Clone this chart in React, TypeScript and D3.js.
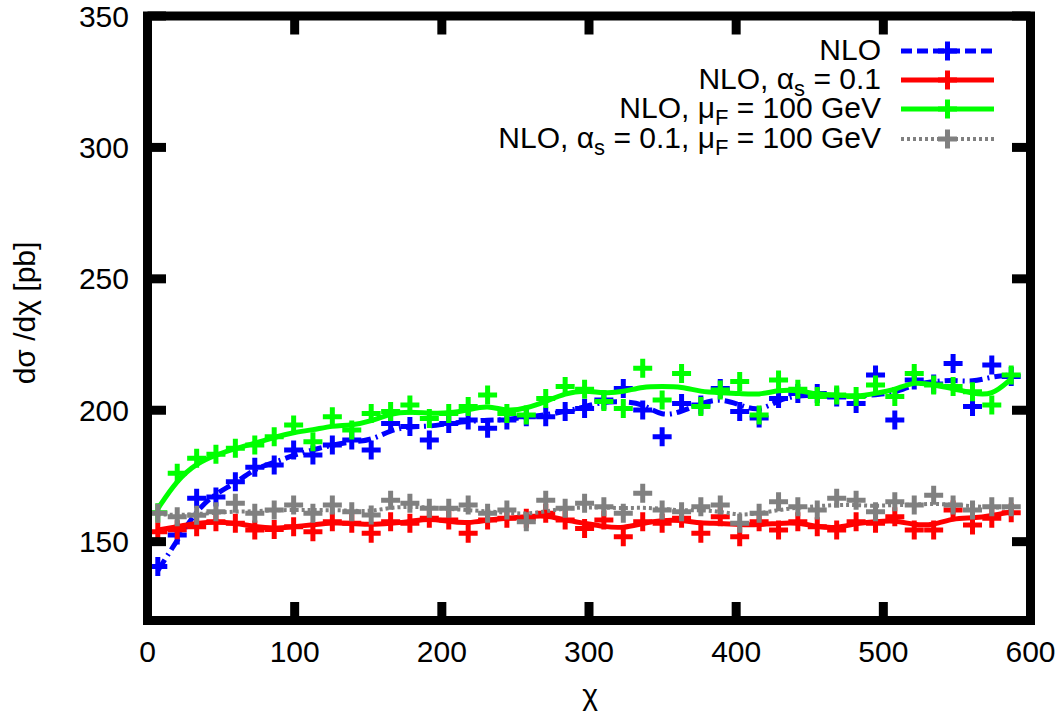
import React from 'react';
import * as d3 from 'd3';

// chi bin centres
const chi = [
  7.0, 20.2, 33.4, 46.5, 59.7, 72.9, 86.1, 99.3, 112.4, 125.6,
  138.8, 152.0, 165.2, 178.3, 191.5, 204.7, 217.9, 231.1, 244.2, 257.4,
  270.6, 283.8, 297.0, 310.1, 323.3, 336.5, 349.7, 362.9, 376.0, 389.2,
  402.4, 415.6, 428.8, 441.9, 455.1, 468.3, 481.5, 494.7, 507.8, 521.0,
  534.2, 547.4, 560.6, 573.7, 586.9,
];

// NLO (blue)
const nloPts = [
  140.5, 152.5, 166.5, 167, 172.8, 178.3, 179.2, 184.9, 183, 186.8,
  188.7, 184.9, 195, 193.8, 188.7, 195, 196.3, 193.1, 196.3, 197.5,
  197.5, 199.5, 200.7, 203.9, 208.3, 200.1, 189.9, 202.6, 202, 208.3,
  199.5, 197, 204.5, 206.4, 206.4, 205, 202.6, 213.4, 196.3, 211.5,
  210, 217.8, 201.4, 217.2, 212.8,
];
const nloCurve = [
  139, 150.5, 162, 168.4, 172.2, 177.9, 180, 183, 184.9, 186.8,
  188, 188.5, 192.5, 193.8, 193.8, 195, 195.7, 196.3, 196.3, 197.5,
  198.2, 199.5, 201.3, 203.3, 203.3, 202.6, 197.5, 199.5, 202.6, 204.5,
  202, 199.5, 203.9, 205.8, 205.5, 205.2, 205.2, 206, 206.4, 210,
  211, 211.5, 210.7, 212.8, 213.4,
];

// NLO, alpha_s = 0.1 (red)
const alphaPts = [
  153.8, 154.5, 155.7, 157.6, 157, 154.4, 154.6, 155.7, 153.8, 157.6,
  157, 153.2, 157.6, 157, 158.9, 158.2, 153.2, 158.2, 158.9, 158.9,
  160.8, 158.2, 155, 158.2, 151.9, 157.6, 157, 158.9, 153.2, 159.5,
  151.9, 157.6, 154.4, 157.6, 155.7, 154.4, 157.6, 157, 159.5, 154.4,
  154.4, 162, 156.3, 158.9, 161,
];
const alphaCurve = [
  154.4, 155.7, 157, 157.6, 157, 155.7, 155, 155.7, 156.4, 157.3,
  157, 156.4, 157, 157.6, 158.9, 157.6, 157, 158.2, 158.9, 159.5,
  160.1, 158.2, 157, 155.7, 155.1, 157, 158.2, 158.2, 157, 157,
  156.4, 156.4, 157, 157.3, 155.7, 155.1, 157, 157.6, 158.2, 156.3,
  156.3, 158.9, 158.9, 159.8, 161.4,
];

// NLO, mu_F = 100 GeV (green)
const muPts = [
  161, 176, 181.7, 183.3, 185.5, 186.8, 189.9, 194.4, 188, 197.5,
  192.5, 198.8, 199.5, 202, 196.9, 198.8, 201.4, 205.8, 198.8, 198.2,
  204.5, 209, 208, 203.3, 200.7, 216, 203.9, 214, 201.4, 207.7,
  210.9, 198.2, 211.5, 208, 205.2, 205.8, 205.2, 209.6, 205.2, 214,
  209.6, 209, 207, 202, 213.4,
];
const muCurve = [
  162.5, 173.5, 179.8, 183, 185.5, 187.4, 189.7, 191.6, 192.5, 194.1,
  194.3, 195.8, 198.8, 199.5, 198.8, 198.8, 200.1, 202, 199.5, 200.7,
  203.3, 206.4, 207.7, 206.4, 207, 209, 209, 209, 207, 206.7,
  206.4, 205.8, 207.7, 207.7, 206, 205.8, 205.2, 206.4, 207.7, 211,
  209.6, 208.3, 206.4, 205.5, 212,
];

// NLO, alpha_s = 0.1, mu_F = 100 GeV (grey)
const bothPts = [
  160.8, 159.5, 160, 161.4, 164.6, 160.8, 162, 163.9, 160.8, 163.9,
  161.4, 160.1, 165.8, 164.6, 162.7, 162.7, 163.9, 160.8, 162, 157.6,
  165.8, 162.7, 164.6, 163.3, 160.8, 168.4, 162, 161.4, 163.3, 163.9,
  157, 160.8, 165.2, 163.3, 162, 166.5, 165.8, 161.4, 165.2, 163.9,
  167.7, 163.9, 162, 163.3, 163.3,
];
const bothCurve = [
  160.5, 160, 160.5, 161, 161.5, 161.5, 162, 162, 162, 162,
  161.8, 161.5, 163, 163.3, 163, 162.5, 162, 161.5, 161, 160.5,
  161.5, 162.7, 163, 163, 162.7, 163, 162.5, 161.8, 162, 161.5,
  160, 160.8, 162, 163, 163.5, 164, 164, 163.5, 164, 164,
  164.5, 164, 163.5, 163, 163,
];

const xTicks = [0, 100, 200, 300, 400, 500, 600];
const yTicks = [150, 200, 250, 300, 350];

const series = [
  { key: 'nlo', pts: nloPts, curve: nloCurve, color: '#0000ff', dash: '13,5,2,5', legendDash: '11,5', width: 5 },
  { key: 'alpha', pts: alphaPts, curve: alphaCurve, color: '#ff0000', dash: null, legendDash: null, width: 5 },
  { key: 'mu', pts: muPts, curve: muCurve, color: '#00ff00', dash: null, legendDash: null, width: 5 },
  { key: 'both', pts: bothPts, curve: bothCurve, color: '#808080', dash: '3,3', legendDash: '3,3', width: 4 },
];

const W = 1064;
const H = 719;
const left = 147.5;
const right = 1030.5;
const top = 16;
const bottom = 620.5;
const font = 'Liberation Sans, Arial, sans-serif';
const fs = 30;
const subFs = 22;
const tickLen = 18.5;

const cross = (cx: number, cy: number, h = 9.5) =>
  `M${cx - h},${cy}H${cx + h}M${cx},${cy - h}V${cy + h}`;

export default function App() {
  const x = d3.scaleLinear().domain([0, 600]).range([left, right]);
  const y = d3.scaleLinear().domain([120, 350]).range([bottom, top]);

  const line = d3
    .line<number>()
    .x((_, i) => x(chi[i]))
    .y((d) => y(d))
    .curve(d3.curveBasis);

  const legendX0 = 901;
  const legendX1 = 994;
  const legendRows = [60, 89, 118, 148];

  const sub = (t: string) => (
    <>
      <tspan dy={7} fontSize={subFs}>{t}</tspan>
      <tspan dy={-7}>{' '}</tspan>
    </>
  );

  const labels = [
    <>NLO</>,
    <>NLO, α{sub('s')}= 0.1</>,
    <>NLO, μ{sub('F')}= 100 GeV</>,
    <>NLO, α{sub('s')}= 0.1, μ{sub('F')}= 100 GeV</>,
  ];

  return (
    <div style={{ position: 'fixed', left: 0, top: 0, width: W, height: H, background: '#fff' }}>
      <svg width={W} height={H} fontFamily={font}>
        <rect width={W} height={H} fill="#fff" />

        {/* data */}
        {series.map((s) => (
          <g key={s.key}>
            <path
              d={line(s.curve) || ''}
              fill="none"
              stroke={s.color}
              strokeWidth={s.width}
              strokeDasharray={s.dash || undefined}
            />
            <path
              d={s.pts.map((v, i) => cross(x(chi[i]), y(v))).join('')}
              fill="none"
              stroke={s.color}
              strokeWidth={5}
            />
          </g>
        ))}

        {/* frame and ticks */}
        <g stroke="#000" strokeWidth={9} fill="none">
          <rect x={left} y={top} width={right - left} height={bottom - top} />
          {xTicks.map((t) => (
            <g key={'xt' + t}>
              <line x1={x(t)} x2={x(t)} y1={bottom} y2={bottom - tickLen} />
              <line x1={x(t)} x2={x(t)} y1={top} y2={top + tickLen} />
            </g>
          ))}
          {yTicks.map((t) => (
            <g key={'yt' + t}>
              <line x1={left} x2={left + tickLen} y1={y(t)} y2={y(t)} />
              <line x1={right} x2={right - tickLen} y1={y(t)} y2={y(t)} />
            </g>
          ))}
        </g>

        {/* tick labels */}
        <g fontSize={fs} fill="#000">
          {xTicks.map((t) => (
            <text key={'xl' + t} x={x(t)} y={662} textAnchor="middle">
              {t}
            </text>
          ))}
          {yTicks.map((t) => (
            <text key={'yl' + t} x={129} y={y(t) + 10.5} textAnchor="end">
              {t}
            </text>
          ))}
          <text x={590} y={705} textAnchor="middle">χ</text>
          <text transform="translate(35,313) rotate(-90)" textAnchor="middle">
            dσ /dχ [pb]
          </text>
        </g>

        {/* legend */}
        <g fontSize={fs}>
          {series.map((s, i) => {
            const ly = legendRows[i] - 9;
            return (
              <g key={'lg' + s.key}>
                <text x={881} y={legendRows[i]} textAnchor="end" style={{ whiteSpace: 'pre' }}>
                  {labels[i]}
                </text>
                <line
                  x1={legendX0}
                  x2={legendX1}
                  y1={ly}
                  y2={ly}
                  stroke={s.color}
                  strokeWidth={s.width}
                  strokeDasharray={s.legendDash || undefined}
                />
                <path d={cross((legendX0 + legendX1) / 2, ly)} stroke={s.color} strokeWidth={5} fill="none" />
              </g>
            );
          })}
        </g>
      </svg>
    </div>
  );
}
